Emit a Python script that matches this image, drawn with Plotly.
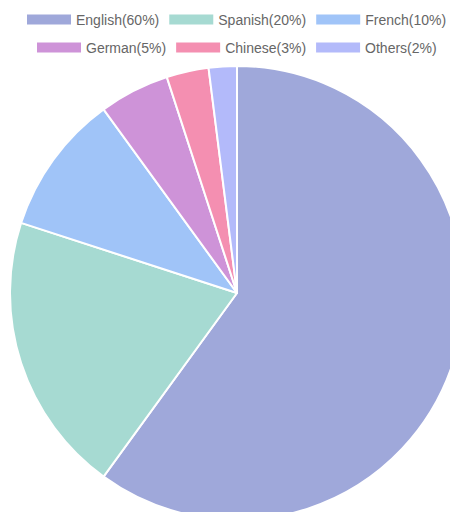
import plotly.graph_objects as go

languages = ["English", "Spanish", "French", "German", "Chinese", "Others"]
shares = [60, 20, 10, 5, 3, 2]
colors = ["#9FA8DA", "#A6DAD2", "#A0C4F8", "#CE93D8", "#F48FB1", "#B3BAFA"]
legend_rows = ["legend", "legend", "legend", "legend2", "legend2", "legend2"]

labels = [f"{n}({v}%)" for n, v in zip(languages, shares)]

fig = go.Figure()
fig.add_trace(go.Pie(
    labels=labels,
    values=shares,
    marker=dict(colors=colors, line=dict(color="white", width=2)),
    sort=False,
    direction="clockwise",
    rotation=0,
    textinfo="none",
    showlegend=False,
    hovertemplate="%{label}<extra></extra>",
))

# legend entries drawn as wide colour bars, two centred rows
for lab, col, lg in zip(labels, colors, legend_rows):
    fig.add_trace(go.Scatter(
        x=[None], y=[None], mode="lines", name=lab,
        line=dict(color=col, width=11),
        showlegend=True, hoverinfo="skip", legend=lg,
    ))

legend_style = dict(
    orientation="h",
    xref="container", yref="container",
    x=0.5, xanchor="center", yanchor="middle",
    itemwidth=44,
    font=dict(size=14, color="#666666"),
    tracegroupgap=0,
    itemclick=False, itemdoubleclick=False,
    bgcolor="rgba(0,0,0,0)",
)

fig.update_layout(
    width=458, height=512,
    margin=dict(l=0, r=0, t=58, b=0, autoexpand=False),
    paper_bgcolor="white", plot_bgcolor="white",
    font=dict(family="Liberation Sans, Arial, sans-serif", size=14, color="#666666"),
    xaxis=dict(visible=False), yaxis=dict(visible=False),
    legend=dict(legend_style, y=1 - 12 / 512),
    legend2=dict(legend_style, y=1 - 40 / 512),
)

fig.write_html("out.html")
